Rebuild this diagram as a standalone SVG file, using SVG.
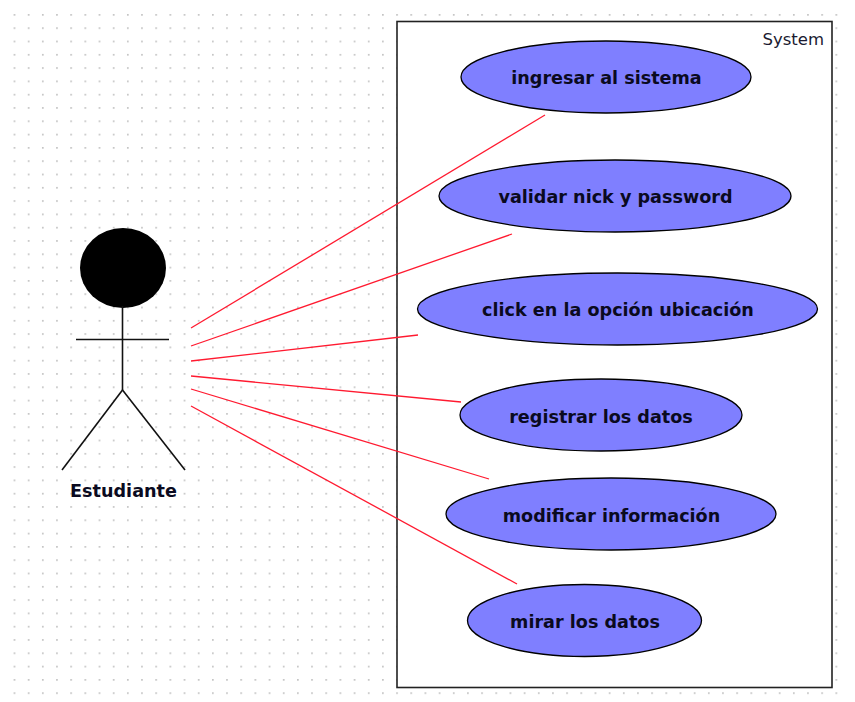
<svg xmlns="http://www.w3.org/2000/svg" width="855" height="702" viewBox="0 0 855 702">
<style>
.uc{fill:#7f7fff;stroke:#000;stroke-width:1.3}
.lbl{font-family:"DejaVu Sans",sans-serif;font-weight:700;font-size:17.6px;fill:#0a0a20;text-anchor:middle}
.c{stroke:#ff1a30;stroke-width:1.3;fill:none}
.a{stroke:#111;stroke-width:1.6;fill:none}
</style>
<defs>
<pattern id="dots" patternUnits="userSpaceOnUse" x="13.6" y="14" width="14.17" height="13.3">
<rect x="0" y="0" width="1.7" height="1.7" fill="#c4c4c4"/>
</pattern>
</defs>
<rect width="855" height="702" fill="#fff"/>
<rect x="7" y="8" width="835" height="690" fill="url(#dots)"/>
<g id="system">
<rect x="397" y="21.500" width="435" height="666" fill="#fff" stroke="#222" stroke-width="1.600"/>
<text x="824" y="45" style="font-family:'DejaVu Sans',sans-serif;font-size:16.500px;fill:#1a1a30;text-anchor:end">System</text>
</g>
<g id="connectors">
<line class="c" x1="191" y1="328" x2="545" y2="115"/>
<line class="c" x1="191" y1="346" x2="512" y2="234"/>
<line class="c" x1="191" y1="361" x2="418" y2="335"/>
<line class="c" x1="191" y1="376" x2="461" y2="402"/>
<line class="c" x1="191" y1="389" x2="489" y2="479"/>
<line class="c" x1="191" y1="406" x2="517" y2="584"/>
</g>
<g id="actor">
<ellipse cx="123" cy="268" rx="43" ry="40" fill="#000"/>
<line class="a" x1="122.500" y1="306" x2="122.500" y2="390"/>
<line class="a" x1="76" y1="339.500" x2="169" y2="339.500"/>
<line class="a" x1="122.500" y1="390" x2="62" y2="470"/>
<line class="a" x1="122.500" y1="390" x2="185" y2="470"/>
<text class="lbl" x="123.500" y="497">Estudiante</text>
</g>
<g id="uc1"><ellipse class="uc" cx="606" cy="77" rx="145" ry="36"/><text class="lbl" x="606.500" y="84">ingresar al sistema</text></g>
<g id="uc2"><ellipse class="uc" cx="615" cy="196" rx="176" ry="36"/><text class="lbl" x="615.500" y="203">validar nick y password</text></g>
<g id="uc3"><ellipse class="uc" cx="617.500" cy="309" rx="200" ry="36"/><text class="lbl" x="618" y="316">click en la opción ubicación</text></g>
<g id="uc4"><ellipse class="uc" cx="601" cy="415" rx="141" ry="36"/><text class="lbl" x="601" y="423">registrar los datos</text></g>
<g id="uc5"><ellipse class="uc" cx="611" cy="514" rx="165" ry="36"/><text class="lbl" x="611.500" y="522">modificar información</text></g>
<g id="uc6"><ellipse class="uc" cx="584.500" cy="620.500" rx="117" ry="36"/><text class="lbl" x="585" y="628">mirar los datos</text></g>
</svg>
